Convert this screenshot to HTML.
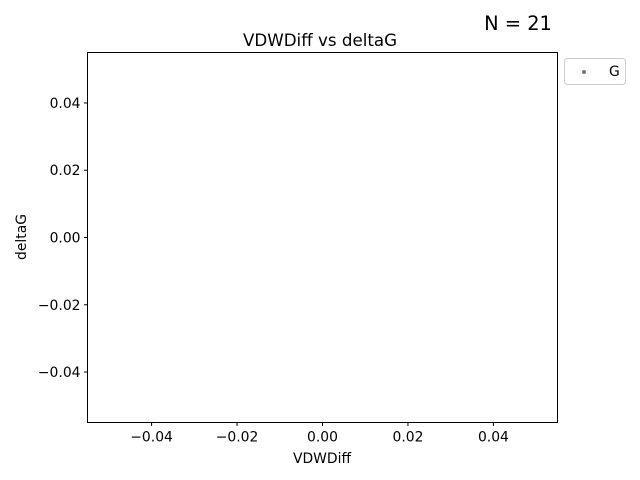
<!DOCTYPE html>
<html><head><meta charset="utf-8"><style>
body{margin:0;background:#fff;}
svg{display:block;font-family:"DejaVu Sans","Liberation Sans",sans-serif;}
</style></head><body>
<svg id="chart" width="640" height="480" viewBox="0 0 640 480">
<rect width="640" height="480" fill="#fff"/>
<text x="518" y="30" font-size="19.4" text-anchor="middle" fill="#000">N = 21</text>
<text x="320" y="46" font-size="16.7" text-anchor="middle" fill="#000">VDWDiff vs deltaG</text>
<g id="xticks"></g>
<g id="yticks"></g>
<g id="points"></g>
<rect x="87.5" y="52.5" width="470" height="370" fill="none" stroke="#000" stroke-width="1"/>
<text x="322" y="463" font-size="13.9" text-anchor="middle">VDWDiff</text>
<text transform="translate(26,237) rotate(-90)" font-size="13.9" text-anchor="middle">deltaG</text>
<g>
<rect x="564.5" y="58.5" width="61" height="26" rx="3" fill="#fff" stroke="#ccc"/>
<circle cx="584" cy="72" r="2" fill="#777"/>
<text x="609" y="76" font-size="13.9">G</text>
</g>
</svg>
<script>
const xValues = [];
const yValues = [];
const xTickValues = [-0.04, -0.02, 0.00, 0.02, 0.04];
const yTickValues = [0.04, 0.02, 0.00, -0.02, -0.04];
const xTickLabels = ["−0.04", "−0.02", "0.00", "0.02", "0.04"];
const yTickLabels = ["0.04", "0.02", "0.00", "−0.02", "−0.04"];

const X0=87.5,X1=557.5,Y0=52.5,Y1=422.5,DMIN=-0.055,DMAX=0.055;
function sx(v){return X0+(v-DMIN)/(DMAX-DMIN)*(X1-X0);}
function sy(v){return Y1-(v-DMIN)/(DMAX-DMIN)*(Y1-Y0);}
const NS="http://www.w3.org/2000/svg";
const xg=document.getElementById('xticks'), yg=document.getElementById('yticks'), pg=document.getElementById('points');
xTickValues.forEach((v,i)=>{
  const x=sx(v);
  const l=document.createElementNS(NS,'line');
  l.setAttribute('x1',x);l.setAttribute('x2',x);l.setAttribute('y1',Y1);l.setAttribute('y2',Y1+3.5);l.setAttribute('stroke','#000');
  
  
  xg.appendChild(l);
  const t=document.createElementNS(NS,'text');
  t.setAttribute('x',x);t.setAttribute('y',Y1+19);t.setAttribute('font-size','13.9');t.setAttribute('text-anchor','middle');
  t.textContent=xTickLabels[i];
  
  
  xg.appendChild(t);
});
yTickValues.forEach((v,i)=>{
  const y=sy(v);
  const l=document.createElementNS(NS,'line');
  l.setAttribute('x1',X0-3.5);l.setAttribute('x2',X0);l.setAttribute('y1',y);l.setAttribute('y2',y);l.setAttribute('stroke','#000');
  
  
  yg.appendChild(l);
  const t=document.createElementNS(NS,'text');
  t.setAttribute('x',X0-7);t.setAttribute('y',y+5);t.setAttribute('font-size','13.9');t.setAttribute('text-anchor','end');
  t.textContent=yTickLabels[i];
  
  
  yg.appendChild(t);
});
xValues.forEach((v,i)=>{
  const c=document.createElementNS(NS,'circle');
  c.setAttribute('cx',sx(v));c.setAttribute('cy',sy(yValues[i]));c.setAttribute('r',2);c.setAttribute('fill','#777');
  
  
  pg.appendChild(c);
});
</script>
</body></html>
